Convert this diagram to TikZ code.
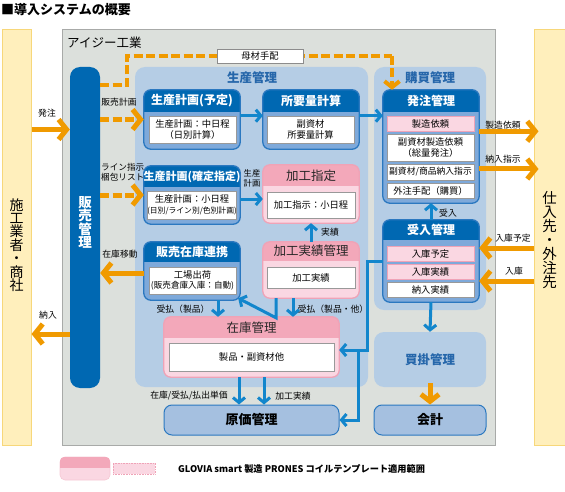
\documentclass[tikz,border=0pt]{standalone}
\usepackage{fontspec}
\setmainfont{Noto Sans CJK JP}
\usetikzlibrary{arrows.meta,calc}
\definecolor{orng}{HTML}{F09A00}
\definecolor{abl}{HTML}{1286CC}
\definecolor{dkb}{HTML}{0068B2}
\definecolor{bbody}{HTML}{7EA9DA}
\definecolor{bedge}{HTML}{2B78C0}
\definecolor{pnl}{HTML}{B5CDE5}
\definecolor{gpnl}{HTML}{DCE0DC}
\definecolor{gedge}{HTML}{A8AAA8}
\definecolor{ylw}{HTML}{FFEFBC}
\definecolor{yedge}{HTML}{F7D77A}
\definecolor{phead}{HTML}{F3A8BA}
\definecolor{pbody}{HTML}{FAD7E2}
\definecolor{pedge}{HTML}{EFA3B7}
\definecolor{gkf}{HTML}{A5C0E0}
\definecolor{ttl}{HTML}{2566AA}
\newcommand\fs[1]{\fontsize{#1}{1.15\dimexpr#1pt\relax}\selectfont}
\newcommand\vfs[1]{\fontsize{#1}{0.96\dimexpr#1pt\relax}\selectfont}
\newcommand\procbox[7]{%
  \node[#7box, minimum width={(#4-#2)*1pt}, minimum height={(#5-#3)*1pt}] (#1) at ({(#2+#4)/2},{(#3+#5)/2}) {};
  \begin{scope}
    \clip[rounded corners=7pt] (#1.north west) rectangle (#1.south east);
    \fill[#7head] (#1.north west) rectangle ([yshift=-#6pt]#1.north east);
  \end{scope}
  \draw[#7edge, rounded corners=7pt] (#1.north west) rectangle (#1.south east);
}
\tikzset{
  bluebox/.style={fill=bbody, inner sep=0pt, rounded corners=7pt},
  bluehead/.style={fill=dkb},
  blueedge/.style={draw=bedge, line width=1.3pt},
  pinkbox/.style={fill=pbody, inner sep=0pt, rounded corners=7pt},
  pinkhead/.style={fill=phead},
  pinkedge/.style={draw=pedge, line width=1.3pt},
  btitle/.style={text=white, font=\fs{12}\bfseries, inner sep=0pt},
  ptitle/.style={text=black!85, font=\fs{12.5}, inner sep=0pt},
  inbox/.style={draw=black!40, line width=0.6pt, fill=white, inner sep=0pt, align=center, font=\fs{9.3}},
  pitem/.style={draw=pedge, line width=0.6pt, fill=pbody, inner sep=0pt, align=center, font=\fs{9.3}},
  lbl/.style={font=\fs{8.8}, inner sep=0pt, align=center},
  orarrow/.style={draw=orng, line width=5pt, -{Straight Barb[length=8pt,width=20pt]}},
  ordash/.style={orarrow, dash pattern=on 9pt off 3.5pt},
  blarrow/.style={draw=abl, line width=3pt, -{Straight Barb[length=5pt,width=12pt]}},
  blline/.style={draw=abl, line width=3pt},
  ptxt/.style={text=ttl, font=\fs{12.5}\bfseries, inner sep=0pt},
  vtxt/.style={align=center, inner sep=0pt},
}
\begin{document}
\begin{tikzpicture}[x=1pt,y=-1pt]
\useasboundingbox (0,0) rectangle (565,492);
% title
\node[anchor=west, font=\fs{13}\bfseries, inner sep=0pt] (title) at (1,10) {■導入システムの概要};
% side panels
\node[fill=ylw, draw=yedge, line width=1pt, minimum width=29pt, minimum height=415pt, inner sep=0pt] (lp) at (16.5,237.5) {};
\node[vtxt, font=\vfs{14}, text=black] (lpt) at (16.5,245) {施\\工\\業\\者\\・\\商\\社};
\node[fill=ylw, draw=yedge, line width=1pt, minimum width=31pt, minimum height=415pt, inner sep=0pt] (rp) at (549.5,237.5) {};
\node[vtxt, font=\vfs{14.5}, text=black] (rpt) at (549.5,240) {仕\\入\\先\\・\\外\\注\\先};
% gray company panel
\node[fill=gpnl, draw=gedge, line width=1pt, minimum width=433pt, minimum height=415pt, inner sep=0pt] (ig) at (278.5,237.5) {};
\node[anchor=west, font=\fs{12.5}, inner sep=0pt] (igt) at (67,43) {アイジー工業};
% sub panels
\node[fill=pnl, rounded corners=10pt, minimum width=233pt, minimum height=320pt, inner sep=0pt] (sp) at (251.5,227) {};
\node[ptxt] (spt) at (252,78) {生産管理};
\node[fill=pnl, rounded corners=10pt, minimum width=112pt, minimum height=243pt, inner sep=0pt] (kp) at (430,188.5) {};
\node[ptxt] (kpt) at (430,78) {購買管理};
\node[fill=pnl, rounded corners=10pt, minimum width=112pt, minimum height=55pt, inner sep=0pt, ptxt] (kk) at (430,359.5) {買掛管理};
% sales bar
\node[fill=dkb, rounded corners=10pt, minimum width=30pt, minimum height=321pt, inner sep=0pt] (sb) at (85,227.5) {};
\node[vtxt, text=white, font=\vfs{13.5}\bfseries] (sbt) at (85,222) {販\\売\\管\\理};
% process boxes
\procbox{p1}{144}{90}{240}{149}{22}{blue}
\node[btitle] (p1t) at (192,101) {生産計画(予定)};
\node[inbox, minimum width=87pt, minimum height=27pt] (p1in) at (192.5,129.5) {生産計画：中日程\\（日別計算）};
\procbox{p2}{263}{90}{359}{149}{22}{blue}
\node[btitle] (p2t) at (311,101) {所要量計算};
\node[inbox, minimum width=87pt, minimum height=27pt] (p2in) at (310.5,129.5) {副資材\\所要量計算};
\procbox{c1}{144}{166}{240}{224}{21}{blue}
\node[btitle, font=\fs{11}\bfseries] (c1t) at (192,176.5) {生産計画(確定指定)};
\node[inbox, minimum width=88pt, minimum height=28pt] (c1in) at (192,205) {生産計画：小日程\\{\fs{7.8}(日別/ライン別/色別計画)}};
\procbox{hz}{144}{242}{240}{300}{20}{blue}
\node[btitle] (hzt) at (192,252) {販売在庫連携};
\node[inbox, minimum width=87pt, minimum height=27pt] (hzin) at (192.5,280.5) {工場出荷\\{\fs{8.6}(販売倉庫入庫：自動)}};
\procbox{ks}{263}{165}{359}{223}{21}{pink}
\node[ptitle] (kst) at (311,175.5) {加工指定};
\node[inbox, minimum width=88pt, minimum height=26pt] (ksin) at (311,205) {加工指示：小日程};
\procbox{kj}{263}{242}{359}{298}{19}{pink}
\node[ptitle] (kjt) at (311,251) {加工実績管理};
\node[inbox, minimum width=88pt, minimum height=21pt] (kjin) at (311,277.5) {加工実績};
\procbox{zk}{164}{317}{339}{377}{21}{pink}
\node[ptitle] (zkt) at (251.5,327.5) {在庫管理};
\node[inbox, minimum width=165pt, minimum height=28pt] (zkin) at (251.5,357) {製品・副資材他};
\procbox{hc}{383}{90}{479}{203}{22}{blue}
\node[btitle] (hct) at (431,101) {発注管理};
\node[pitem, minimum width=87pt, minimum height=15pt] (hc1) at (430.5,123.5) {製造依頼};
\node[inbox, minimum width=87pt, minimum height=27pt] (hc2) at (430.5,147.5) {副資材製造依頼\\（総量発注）};
\node[inbox, minimum width=87pt, minimum height=16pt, font=\fs{8.8}] (hc3) at (430.5,172) {副資材/商品納入指示};
\node[inbox, minimum width=87pt, minimum height=15pt] (hc4) at (430.5,190.5) {外注手配（購買）};
\procbox{uk}{383}{220}{479}{302}{20}{blue}
\node[btitle] (ukt) at (431,230) {受入管理};
\node[pitem, minimum width=87pt, minimum height=15pt] (uk1) at (430.5,253.5) {入庫予定};
\node[pitem, minimum width=87pt, minimum height=15pt] (uk2) at (430.5,271.5) {入庫実績};
\node[inbox, minimum width=87pt, minimum height=15pt] (uk3) at (430.5,289.5) {納入実績};
% cost & accounting
\node[fill=gkf, draw=bedge, line width=1pt, rounded corners=8pt, minimum width=175pt, minimum height=30pt, inner sep=0pt, font=\fs{13}\bfseries] (gk) at (251.5,420) {原価管理};
\node[fill=gkf, draw=bedge, line width=1pt, rounded corners=8pt, minimum width=112pt, minimum height=30pt, inner sep=0pt, font=\fs{13}\bfseries] (kai) at (430,420) {会計};
% material arrangement dashed line
\coordinate (d1) at (127,85);
\coordinate (d2) at (392,56);
\draw[ordash, line width=4pt, -] (sb.east |- d1) -- (d1) -- (d1 |- d2) -- (d2);
\draw[ordash, line width=4pt, -{Straight Barb[length=6pt,width=15pt]}] (d2) -- (d2 |- hc.north);
\node[fill=white, draw=black!45, line width=0.6pt, minimum width=86pt, minimum height=14pt, inner sep=0pt, font=\fs{9.3}] (bz) at (260,56) {母材手配};
% orange arrows
\draw[orarrow] (lp.east |- p1in) -- (sb.west |- p1in);
\node[lbl] (l1) at (47,113) {発注};
\draw[ordash] (sb.east |- p1.west) -- (p1.west);
\node[lbl] (l2) at (119,102) {販売計画};
\draw[ordash] (sb.east |- c1.west) -- (c1.west);
\node[lbl, anchor=west, align=left, font=\fs{8.6}] (l3) at (101,172) {ライン指示\\梱包リスト};
\coordinate (zm) at (0,273);
\draw[orarrow] (hz.west |- zm) -- (sb.east |- zm);
\node[lbl] (l4) at (120,254) {在庫移動};
\coordinate (nn) at (0,334);
\draw[orarrow] (sb.west |- nn) -- (lp.east |- nn);
\node[lbl] (l5) at (48,315) {納入};
\draw[orarrow] (hc.east |- hc1.south) -- ([xshift=5pt]rp.west |- hc1.south);
\node[lbl] (l6) at (503,125) {製造依頼};
\coordinate (ns) at (0,169);
\draw[orarrow] (hc.east |- ns) -- ([xshift=5pt]rp.west |- ns);
\node[lbl] (l7) at (503,159) {納入指示};
\coordinate (ny) at (0,248);
\draw[orarrow] (rp.west |- ny) -- (uk.east |- ny);
\node[lbl] (l8) at (513,238) {入庫予定};
\coordinate (nk) at (0,281);
\draw[orarrow] (rp.west |- nk) -- (uk.east |- nk);
\node[lbl] (l9) at (514,271) {入庫};
\draw[orarrow, -{Straight Barb[length=7pt,width=18pt]}] ([yshift=4pt]kk.south) -- (kai.north);
% blue arrows
\draw[blarrow] (p1.east |- p1in.north) -- (p2.west |- p1in.north);
\draw[blarrow] (p2.east |- p2in.north) -- (hc.west |- p2in.north);
\draw[blarrow] ([yshift=-4pt]c1.east) -- ([yshift=-4pt]c1.east -| ks.west);
\node[lbl, font=\fs{8.3}] (l10) at (252,178.5) {生産\\計画};
\draw[blarrow] (kj.north) -- (ks.south);
\node[lbl] (l11) at (330,232) {実績};
\draw[blarrow] (uk.north) -- (hc.south);
\node[lbl] (l12) at (448,213) {受入};
\draw[blarrow] (uk.south) -- (kk.north);
\draw[blarrow] ([xshift=26pt]hz.south) -- ([xshift=26pt]hz.south |- zk.north);
\node[lbl] (l13) at (183,309) {受払（製品）};
\draw[blarrow] ([xshift=-18pt]kj.south) -- ([xshift=-18pt]kj.south |- zk.north);
\node[lbl] (l14) at (333,309) {受払（製品・他）};
\draw[blarrow] ([xshift=-35pt]kj.south) -- ([xshift=-35pt,yshift=-1pt]kj.south |- zk.north) -- ([xshift=-2pt,yshift=2pt]hz.south east);
\draw[blarrow] ([xshift=-12.5pt]zk.south) -- ([xshift=-12.5pt]zk.south |- gk.north);
\draw[blarrow] ([xshift=12.5pt]zk.south) -- ([xshift=12.5pt]zk.south |- gk.north);
\node[lbl] (l15) at (189,396) {在庫/受払/払出単価};
\node[lbl] (l16) at (293,396) {加工実績};
\coordinate (ja) at (367,261);
\coordinate (jb) at (358,350);
\draw[blline] (uk.west) -- (ja) -- (ja |- jb) -- (jb);
\draw[blarrow] (ja |- jb) -- (zk.east |- jb);
\draw[blarrow] (jb) -- (jb |- gk.east) -- (gk.east);
% legend
\node[fill=pbody, draw=pedge!60, line width=0.6pt, rounded corners=5pt, minimum width=50pt, minimum height=23pt, inner sep=0pt] (lg1) at (85,468.5) {};
\begin{scope}
\clip[rounded corners=5pt] (lg1.north west) rectangle (lg1.south east);
\fill[phead] (lg1.north west) rectangle ([yshift=-11pt]lg1.north east);
\end{scope}
\node[fill=pbody, draw=pedge, densely dotted, line width=0.6pt, minimum width=42pt, minimum height=11pt, inner sep=0pt] (lg2) at (134,468.5) {};
\node[anchor=west, font=\fs{9.2}\bfseries, inner sep=0pt] (lgt) at (178,469) {GLOVIA smart 製造 PRONES コイルテンプレート適用範囲};
\end{tikzpicture}
\end{document}
